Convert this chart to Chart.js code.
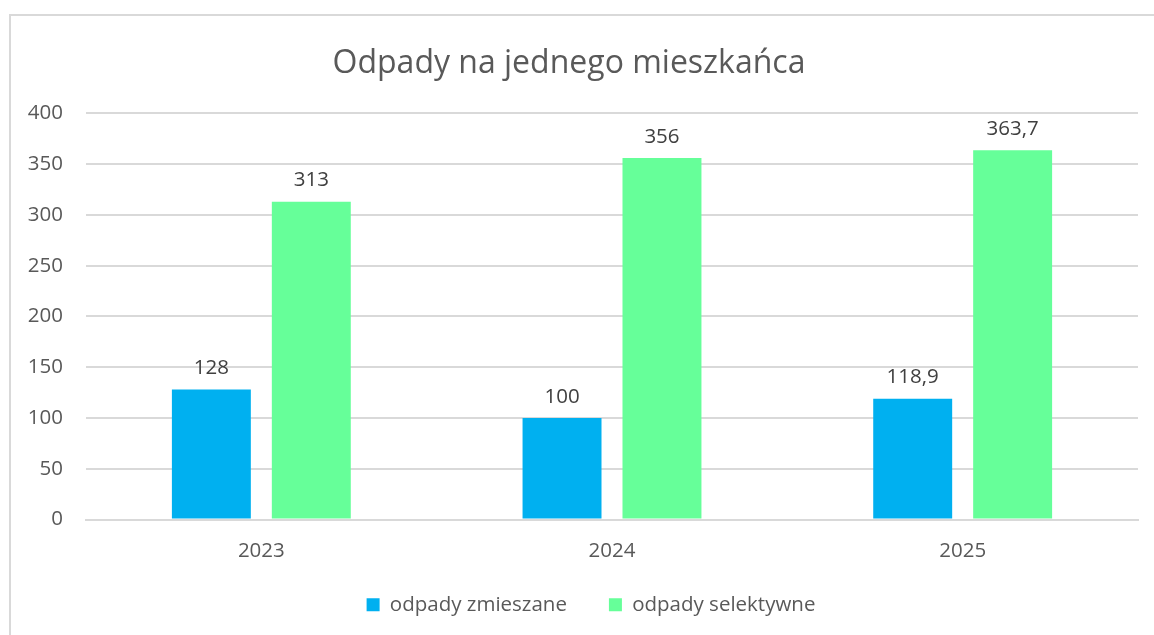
<!DOCTYPE html>
<html lang="pl">
<head>
<meta charset="utf-8">
<title>Odpady na jednego mieszkańca</title>
<script src="https://cdn.jsdelivr.net/npm/chart.js@4.4.1/dist/chart.umd.min.js"></script>
<style>
  html, body { margin: 0; padding: 0; background: #fff; overflow: hidden; }
  #frame {
    position: absolute; left: 9px; top: 14px; width: 1200px; height: 700px;
    border: 2px solid #d9d9d9; box-sizing: border-box;
  }
  #chart { position: absolute; left: 0; top: 0; }
</style>
</head>
<body>
<div id="frame"></div>
<canvas id="chart" width="1154" height="635"></canvas>
<script>
// --- Data ---
const years = ["2023", "2024", "2025"];
const mixedWaste = [128, 100, 118.9];
const selectiveWaste = [313, 356, 363.7];
const seriesNames = ["odpady zmieszane", "odpady selektywne"];
const yTicks = [0, 50, 100, 150, 200, 250, 300, 350, 400];

const FONT = "'Open Sans', sans-serif";
const GREY = "#595959";

// --- value labels above bars (comma decimal) ---
const valueLabels = {
  id: "valueLabels",
  afterDatasetsDraw(chart) {
    const ctx = chart.ctx;
    ctx.save();
    ctx.font = "20.5px " + FONT;
    ctx.fillStyle = "#404040";
    ctx.textAlign = "center";
    ctx.textBaseline = "bottom";
    chart.data.datasets.forEach((ds, i) => {
      chart.getDatasetMeta(i).data.forEach((bar, j) => {
        const txt = String(ds.data[j]).replace(".", ",");
        ctx.fillText(txt, bar.x, bar.y - 11);
      });
    });
    ctx.restore();
  }
};

// legend in the original is centred on the whole (wider) frame and has a wide
// gap between items; the big padding is kept out of the layout and nudged back
const legendShift = {
  id: "legendShift",
  afterLayout(chart) {
    chart.legend.left += 22;
    chart.legend.right += 22;
    chart.legend.top -= 22;
  }
};

new Chart(document.getElementById("chart"), {
  type: "bar",
  data: {
    labels: years,
    datasets: [
      { label: seriesNames[0], data: mixedWaste, backgroundColor: "#00b0f0" },
      { label: seriesNames[1], data: selectiveWaste, backgroundColor: "#66ff99" }
    ]
  },
  options: {
    responsive: false,
    animation: false,
    devicePixelRatio: 1,
    categoryPercentage: 0.57,
    barPercentage: 0.79,
    layout: { padding: { left: 0, right: 16, top: 26, bottom: 10 } },
    scales: {
      x: {
        grid: { display: false },
        border: { color: "#d9d9d9", width: 2 },
        afterFit(scale) { scale.height = 55; },
        ticks: { color: GREY, font: { family: FONT, size: 20.5 }, padding: 11 }
      },
      y: {
        min: 0, max: 400,
        afterBuildTicks(scale) { scale.ticks = yTicks.map(v => ({ value: v })); },
        afterFit(scale) { scale.width = 86; },
        grid: { color: "#d9d9d9", lineWidth: 2, drawTicks: false },
        border: { display: false },
        ticks: { color: GREY, font: { family: FONT, size: 20.5 }, padding: 23 }
      }
    },
    plugins: {
      title: {
        display: true,
        text: "Odpady na jednego mieszkańca",
        color: GREY,
        font: { family: FONT, size: 32, weight: "normal" },
        padding: { top: 19, bottom: 30 }
      },
      legend: {
        position: "bottom",
        maxHeight: 50.5,
        labels: {
          color: GREY,
          font: { family: FONT, size: 20.5 },
          boxWidth: 13, boxHeight: 13,
          padding: 42
        }
      },
      tooltip: { enabled: false }
    }
  },
  plugins: [valueLabels, legendShift]
});
</script>
</body>
</html>
